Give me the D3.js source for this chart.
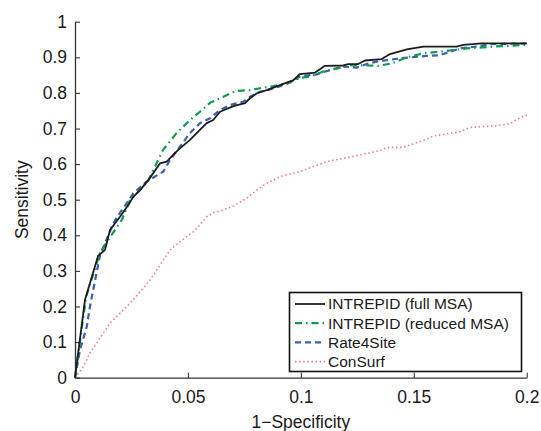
<!DOCTYPE html>
<html>
<head>
<meta charset="utf-8">
<script src="https://cdn.jsdelivr.net/npm/d3@7"></script>
<style>
  body { margin: 0; background: #fff; }
  text { font-family: "Liberation Sans", Arial, Helvetica, sans-serif; fill: #1a1a1a; }
</style>
</head>
<body>
<svg id="chart" width="541" height="431"></svg>
<script>
// ROC curves
const fullX = [0, 0.0044, 0.0102, 0.0133, 0.0155, 0.0199, 0.0236, 0.0258, 0.0288, 0.0325, 0.0376, 0.0406, 0.0435, 0.0457, 0.0509, 0.0553, 0.0583, 0.0612, 0.0642, 0.0701, 0.0753, 0.0775, 0.0805, 0.0849, 0.0908, 0.0967, 0.0996, 0.1063, 0.1107, 0.1188, 0.1210, 0.1254, 0.1284, 0.1358, 0.1395, 0.1469, 0.1542, 0.1690, 0.1719, 0.1801, 0.2];
const fullY = [0, 0.218, 0.342, 0.359, 0.415, 0.452, 0.485, 0.508, 0.527, 0.555, 0.602, 0.607, 0.626, 0.640, 0.668, 0.696, 0.715, 0.724, 0.747, 0.763, 0.771, 0.785, 0.799, 0.808, 0.822, 0.836, 0.853, 0.857, 0.876, 0.877, 0.881, 0.881, 0.891, 0.895, 0.909, 0.922, 0.930, 0.930, 0.935, 0.939, 0.939];

const reducedX = [0, 0.0049, 0.0100, 0.0111, 0.0147, 0.0207, 0.0244, 0.0288, 0.0325, 0.0390, 0.0450, 0.0509, 0.0553, 0.0598, 0.0657, 0.0709, 0.0775, 0.0819, 0.0878, 0.0937, 0.0974, 0.0996, 0.1041, 0.1099, 0.1144, 0.1218, 0.1284, 0.1342, 0.1404, 0.1469, 0.1541, 0.1646, 0.1734, 0.1852, 0.2];
const reducedY = [0, 0.227, 0.330, 0.350, 0.387, 0.443, 0.499, 0.527, 0.555, 0.640, 0.687, 0.724, 0.747, 0.772, 0.789, 0.805, 0.808, 0.813, 0.819, 0.827, 0.836, 0.842, 0.846, 0.860, 0.866, 0.878, 0.877, 0.876, 0.883, 0.900, 0.911, 0.918, 0.925, 0.930, 0.935];

const rate4siteX = [0, 0.0022, 0.0052, 0.0066, 0.0089, 0.0111, 0.0133, 0.0170, 0.0192, 0.0229, 0.0258, 0.0317, 0.0391, 0.0421, 0.0465, 0.0509, 0.0553, 0.0598, 0.0642, 0.0686, 0.0745, 0.0775, 0.0819, 0.0863, 0.0908, 0.0952, 0.0996, 0.1070, 0.1129, 0.1188, 0.1247, 0.1292, 0.1336, 0.1439, 0.1557, 0.1616, 0.1705, 0.1779, 0.1838, 0.2];
const rate4siteY = [0, 0.078, 0.143, 0.199, 0.274, 0.345, 0.378, 0.434, 0.457, 0.490, 0.518, 0.551, 0.579, 0.612, 0.649, 0.687, 0.715, 0.729, 0.752, 0.766, 0.775, 0.789, 0.803, 0.810, 0.819, 0.829, 0.846, 0.852, 0.864, 0.874, 0.871, 0.881, 0.888, 0.897, 0.904, 0.906, 0.925, 0.930, 0.937, 0.939];

const consurfX = [0, 0.0037, 0.0066, 0.0155, 0.0244, 0.0332, 0.0421, 0.0465, 0.0524, 0.0553, 0.0583, 0.0612, 0.0657, 0.0701, 0.0760, 0.0805, 0.0849, 0.0908, 0.0952, 0.0996, 0.1055, 0.1114, 0.1188, 0.1262, 0.1351, 0.1380, 0.1454, 0.1513, 0.1557, 0.1587, 0.1646, 0.1705, 0.1749, 0.1852, 0.1926, 0.1956, 0.2];
const consurfY = [0, 0.031, 0.069, 0.153, 0.209, 0.274, 0.359, 0.382, 0.410, 0.429, 0.452, 0.463, 0.471, 0.482, 0.504, 0.527, 0.546, 0.565, 0.572, 0.579, 0.593, 0.607, 0.616, 0.626, 0.638, 0.647, 0.647, 0.660, 0.670, 0.679, 0.685, 0.691, 0.703, 0.707, 0.713, 0.726, 0.738];

const xTicks = [0, 0.05, 0.1, 0.15, 0.2];
const yTicks = [0, 0.1, 0.2, 0.3, 0.4, 0.5, 0.6, 0.7, 0.8, 0.9, 1];

const series = [
    { name: "INTREPID (full MSA)", xs: fullX, ys: fullY, color: "#1c1c1c", width: 1.8, dash: null },
    { name: "INTREPID (reduced MSA)", xs: reducedX, ys: reducedY, color: "#0e9a4a", width: 2.2, dash: "7,4,1.5,4" },
    { name: "Rate4Site", xs: rate4siteX, ys: rate4siteY, color: "#3d5fae", width: 2.2, dash: "6,4" },
    { name: "ConSurf", xs: consurfX, ys: consurfY, color: "#f07d84", width: 1.6, dash: "1.5,2.6" }
];

const svg = d3.select("#chart");
const margin = { left: 75, right: 14.3, top: 21.7, bottom: 53.3 };
const W = 541, H = 431;

const x = d3.scaleLinear().domain([0, 0.2]).range([margin.left, W - margin.right]);
const y = d3.scaleLinear().domain([0, 1]).range([H - margin.bottom, margin.top]);

const fmt = d => d === 0 ? "0" : String(+d.toFixed(2));

// axes (matlab style: ticks inward, no box)
const gx = svg.append("g")
    .attr("transform", `translate(0,${y(0)})`)
    .call(d3.axisBottom(x).tickValues(xTicks).tickSizeInner(-5).tickSizeOuter(0).tickPadding(10).tickFormat(fmt));
const gy = svg.append("g")
    .attr("transform", `translate(${x(0)},0)`)
    .call(d3.axisLeft(y).tickValues(yTicks).tickSizeInner(-5).tickSizeOuter(0).tickPadding(8).tickFormat(fmt));

[gx, gy].forEach(g => {
    g.select(".domain").attr("stroke", "#333").attr("stroke-width", 1.3);
    g.selectAll(".tick line").attr("stroke", "#333").attr("stroke-width", 1.1);
    g.selectAll(".tick text").attr("font-size", 17.5).attr("fill", "#1a1a1a")
        .attr("font-family", "Liberation Sans, Arial, sans-serif");
});
gx.selectAll(".tick text").attr("dy", "0.9em");

svg.append("text")
    .attr("x", x(0.1)).attr("y", 428)
    .attr("text-anchor", "middle").attr("font-size", 17.5)
    .text("1\u2212Specificity");

svg.append("text")
    .attr("transform", `translate(28,${y(0.5)}) rotate(-90)`)
    .attr("text-anchor", "middle").attr("font-size", 17.5)
    .text("Sensitivity");

// curves, drawn back to front
const line = d3.line().x(d => x(d[0])).y(d => y(d[1]));
series.slice().reverse().forEach(s => {
    const pts = s.xs.map((v, i) => [v, s.ys[i]]);
    svg.append("path")
        .datum(pts)
        .attr("d", line)
        .attr("fill", "none")
        .attr("stroke", s.color)
        .attr("stroke-width", s.width)
        .attr("stroke-dasharray", s.dash)
        .attr("stroke-linejoin", "round");
});

// legend
const leg = svg.append("g");
leg.append("rect")
    .attr("x", 289.5).attr("y", 292.5)
    .attr("width", 232).attr("height", 79)
    .attr("fill", "#fff").attr("stroke", "#111").attr("stroke-width", 1.6);

series.forEach((s, i) => {
    const ly = 304 + i * 19.2;
    leg.append("line")
        .attr("x1", 295).attr("x2", 325)
        .attr("y1", ly).attr("y2", ly)
        .attr("stroke", s.color).attr("stroke-width", s.width)
        .attr("stroke-dasharray", s.dash);
    leg.append("text")
        .attr("x", 328).attr("y", ly)
        .attr("dy", "0.35em")
        .attr("font-size", 15.5)
        .text(s.name);
});
</script>
</body>
</html>
